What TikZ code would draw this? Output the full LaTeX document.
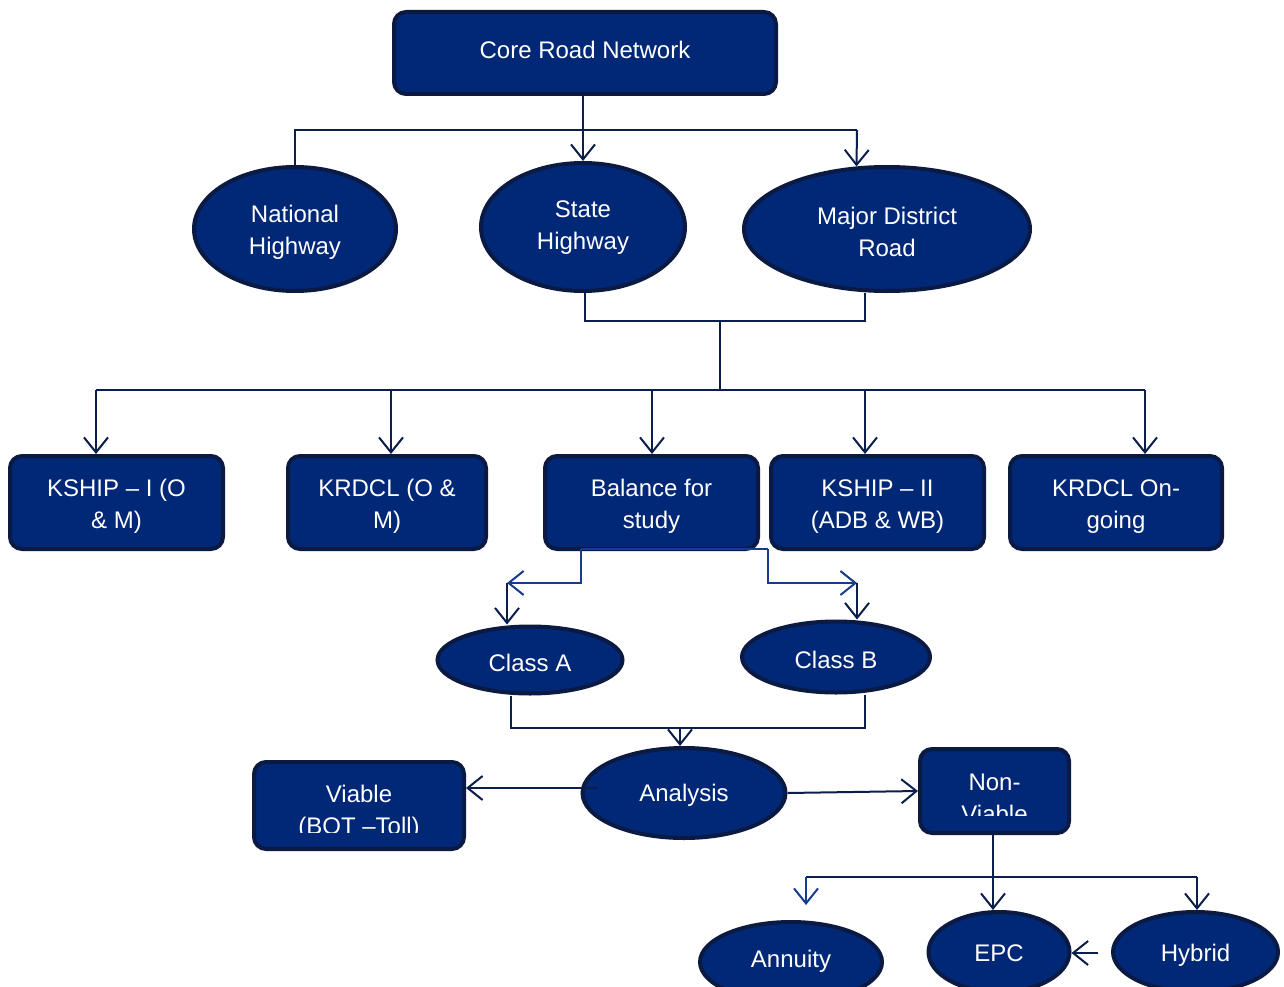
\documentclass[tikz,border=0pt]{standalone}
\usepackage{fontspec}
\setmainfont{Liberation Sans}
\usetikzlibrary{arrows.meta,shapes.geometric,calc}
\definecolor{navyfill}{RGB}{0,40,118}
\definecolor{navyedge}{RGB}{10,26,66}
\definecolor{linedark}{RGB}{12,30,75}
\definecolor{lineblue}{RGB}{24,60,140}
\begin{document}
\begin{tikzpicture}[x=1pt,y=-1pt,
  tx/.style={text=white, align=center, font=\fontsize{24}{32}\selectfont, inner sep=0pt},
  box/.style={draw=navyedge, line width=4pt, fill=navyfill, rounded corners=12pt, inner sep=0pt},
  oval/.style={ellipse, draw=navyedge, line width=4pt, fill=navyfill, inner sep=0pt},
  conn/.style={draw=linedark, line width=2pt},
  connblue/.style={draw=lineblue, line width=2pt},
  arr/.style={conn, -{Straight Barb[length=15pt,width=24pt]}},
  arrblue/.style={connblue, -{Straight Barb[length=15pt,width=24pt]}},
  cliptext/.style n args={3}{path picture={
     \clip (path picture bounding box.north west) rectangle ($(path picture bounding box.south east)+(0,-#1)$);
     \node[tx] at ($(path picture bounding box.center)+(0,#2)$) {#3};}}]
\useasboundingbox (0,0) rectangle (1284,987);
\fill[white] (0,0) rectangle (1284,987);

% nodes
\node[box, minimum width=382, minimum height=82, label={[tx,yshift=3pt]center:{Core Road Network}}] (core) at (585,53) {};
\node[oval, minimum width=202, minimum height=124, label={[tx,yshift=-3pt]center:{National\\Highway}}] (nh) at (295,229) {};
\node[oval, minimum width=204, minimum height=128, label={[tx,yshift=-1pt]center:{State\\Highway}}] (sh) at (583,227) {};
\node[oval, minimum width=286, minimum height=124, label={[tx,yshift=-3pt]center:{Major District\\Road}}] (mdr) at (887,229) {};

\node[box, minimum width=213, minimum height=93, label={[tx,yshift=-4pt]center:{KSHIP – I (O\\\& M)}}] (k1) at (116.5,502.5) {};
\node[box, minimum width=198, minimum height=93, label={[tx,yshift=-4pt]center:{KRDCL (O \&\\M)}}] (k2) at (387,502.5) {};
\node[box, minimum width=213, minimum height=93, label={[tx,yshift=-4pt]center:{Balance for\\study}}] (bal) at (651.5,502.5) {};
\node[box, minimum width=213, minimum height=93, label={[tx,yshift=-4pt]center:{KSHIP – II\\(ADB \& WB)}}] (k3) at (877.5,502.5) {};
\node[box, minimum width=212, minimum height=93, label={[tx,yshift=-4pt]center:{KRDCL On-\\going}}] (k4) at (1116,502.5) {};

\node[oval, minimum width=185, minimum height=67, cliptext={22}{3}{Class A}] (ca) at (530,660) {};
\node[oval, minimum width=188, minimum height=71, label={[tx,yshift=-3pt]center:{Class B}}] (cb) at (836,657) {};
\node[oval, minimum width=203, minimum height=90, label={[tx,yshift=-2pt]center:{Analysis}}] (an) at (684,793) {};
\node[box, minimum width=210, minimum height=87, cliptext={17}{7}{Viable\\(BOT –Toll)}] (vi) at (359,805.5) {};
\node[box, minimum width=149, minimum height=84, cliptext={18}{7}{Non-\\Viable}] (nv) at (994.5,791) {};

\node[oval, minimum width=182, minimum height=80, label={[tx,yshift=1pt]center:{Annuity}}] (ann) at (791,962) {};
\node[oval, minimum width=141, minimum height=80, label={[tx,yshift=-1pt]center:{EPC}}] (epc) at (999,952) {};
\node[oval, minimum width=165, minimum height=80, label={[tx,yshift=-3pt]center:{Hybrid}}] (hy) at (1195.5,952) {};

% connectors top
\draw[arr] (core.south -| sh.north) -- (sh.north);
\coordinate (t1) at (295,130);
\coordinate (t2) at (857,130);
\draw[conn] (nh.north) -- (t1) -- (t2);
\draw[arr] (t2) -- (mdr.116);

\coordinate (m1) at (585,321);
\coordinate (m2) at (865,321);
\coordinate (m3) at (720,321);
\coordinate (m4) at (720,390);
\draw[conn] (m1 |- sh.south) -- (m1) -- (m2) -- (m2 |- mdr.south);
\draw[conn] (m3) -- (m4);

\coordinate (r1) at (96,390);
\coordinate (r2) at (391,390);
\coordinate (r3) at (652,390);
\coordinate (r4) at (865,390);
\coordinate (r5) at (1145,390);
\draw[conn] (r1) -- (r5);
\draw[arr] (r1) -- (r1 |- k1.north);
\draw[arr] (r2) -- (r2 |- k2.north);
\draw[arr] (r3) -- (r3 |- bal.north);
\draw[arr] (r4) -- (r4 |- k3.north);
\draw[arr] (r5) -- (r5 |- k4.north);

% balance to classes
\coordinate (b1) at (581,549);
\coordinate (b2) at (768,549);
\coordinate (b3) at (581,583);
\coordinate (b4) at (507,583);
\coordinate (b5) at (768,583);
\coordinate (b6) at (857,583);
\draw[connblue] (b1) -- (b2);
\draw[arrblue] (b1) -- (b3) -- (b4);
\draw[arrblue] (b2) -- (b5) -- (b6);
\draw[arr] (b4) -- (b4 |- ca.north);
\draw[arr] (b6) -- (b6 |- cb.north);

% classes to analysis
\coordinate (c1) at (511,728);
\coordinate (c2) at (865,728);
\coordinate (c3) at (680,728);
\draw[conn] (c1 |- ca.south) -- (c1) -- (c2) -- (c2 |- cb.south);
\draw[arr] (c3) -- (c3 |- an.north);

% analysis outputs
\coordinate (av) at (598,788);
\draw[arr] (av) -- (av -| vi.east);
\draw[arr] (an.east) -- (nv.west);

% non-viable to options
\coordinate (n1) at (993,877);
\coordinate (n2) at (806,877);
\coordinate (n3) at (1197,877);
\coordinate (n4) at (806,905);
\draw[conn] (n2) -- (n3);
\draw[arr] (n1 |- nv.south) -- (n1 |- epc.north);
\draw[arr] (n3) -- (n3 |- hy.north);
\draw[arrblue] (n2) -- (n4);
\coordinate (h1) at (1098,953);
\draw[arr] (h1) -- (h1 -| epc.east);
\end{tikzpicture}
\end{document}
